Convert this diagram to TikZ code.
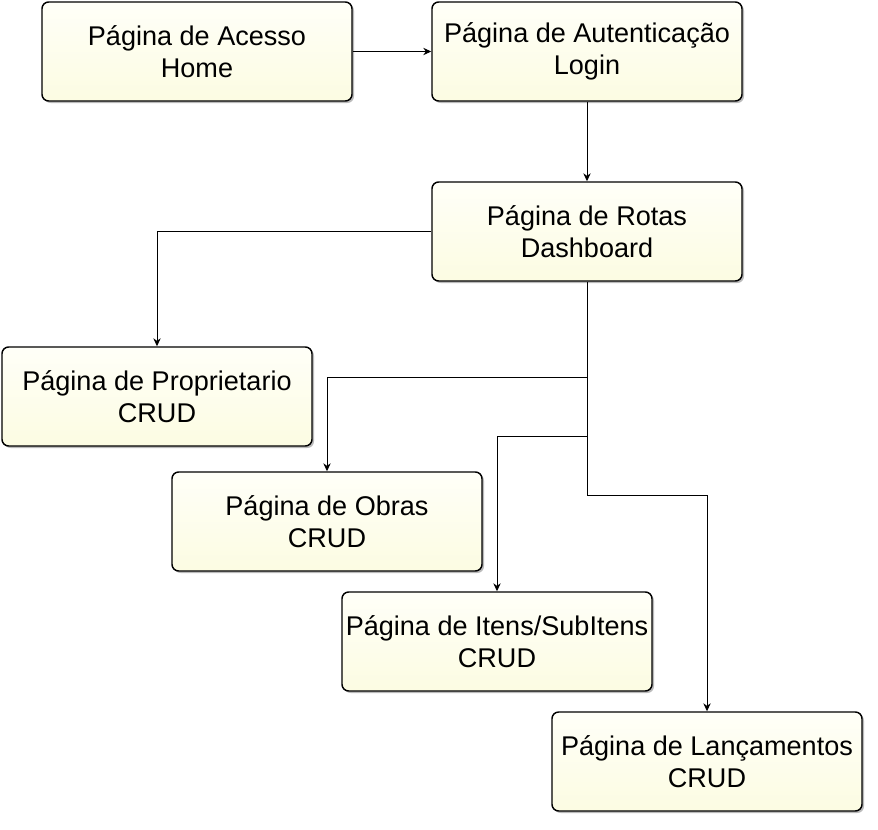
\documentclass[tikz,border=0pt]{standalone}
\usepackage{fontspec}
\setmainfont{Liberation Sans}
\usetikzlibrary{arrows.meta,shadows}
\definecolor{boxtop}{RGB}{255,255,248}
\definecolor{boxbot}{RGB}{252,252,226}
\begin{document}
\begin{tikzpicture}[x=0.75pt,y=-0.75pt,
  pagebox/.style={draw=black,line width=1.1pt,rounded corners=5pt,
    top color=boxtop,bottom color=boxbot,
    drop shadow={shadow xshift=1.5pt,shadow yshift=-1.5pt,fill=black!45,opacity=0.6},
    minimum width=232.5pt,minimum height=74.25pt,align=center,inner sep=0pt,
    font=\fontsize{20.3pt}{24pt}\selectfont},
  link/.style={draw=black,line width=0.75pt,-{Stealth[length=6pt,width=5.5pt]}}]
\useasboundingbox (0,0) rectangle (878,829);
\node[pagebox] (home) at (197,51.5) {Página de Acesso\\Home};
\node[pagebox] (login) at (587,51.5) {Página de Autenticação\\Login};
\node[pagebox] (dash) at (587,231.5) {Página de Rotas\\Dashboard};
\node[pagebox] (prop) at (157,396.5) {Página de Proprietario\\CRUD};
\node[pagebox] (obras) at (327,521.5) {Página de Obras\\CRUD};
\node[pagebox] (itens) at (497,641.5) {Página de Itens/SubItens\\CRUD};
\node[pagebox] (lanc) at (707,761.5) {Página de Lançamentos\\CRUD};
\coordinate (j1) at (587,377);
\coordinate (j2) at (587,436);
\coordinate (j3) at (587,495);
\draw[link] (home) -- (login);
\draw[link] (login) -- (dash);
\draw[link] (dash.west) -| (prop.north);
\draw[draw=black,line width=0.75pt] (dash.south) -- (j3);
\draw[link] (j1) -| (obras.north);
\draw[link] (j2) -| (itens.north);
\draw[link] (j3) -| (lanc.north);
\end{tikzpicture}
\end{document}
